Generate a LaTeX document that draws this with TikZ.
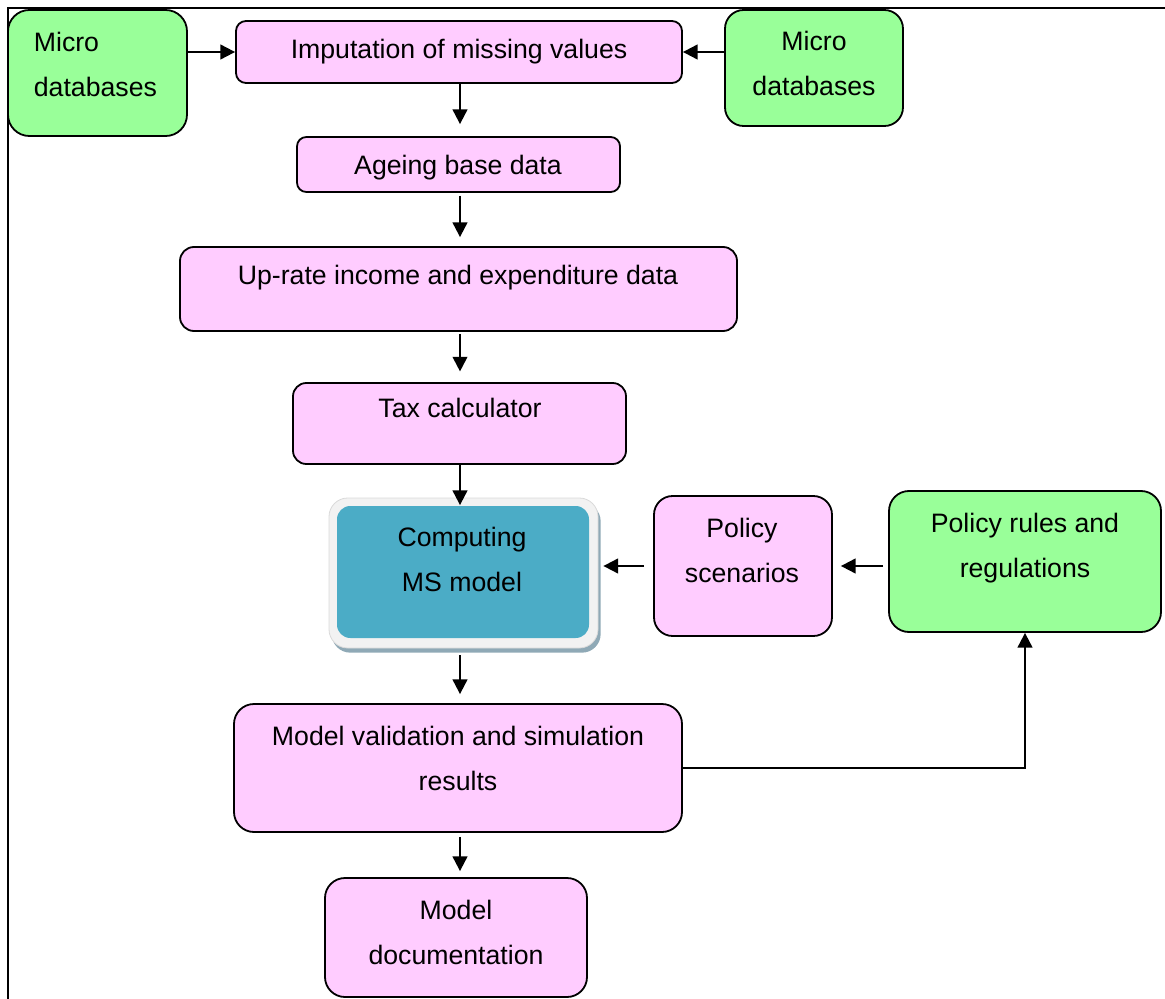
\documentclass[tikz,border=0pt]{standalone}
\usepackage{fontspec}
\setmainfont{Liberation Sans}
\usetikzlibrary{arrows.meta}
\usetikzlibrary{positioning, calc, shadows}

\definecolor{lilac}{HTML}{FFCCFF}
\definecolor{mint}{HTML}{99FF99}
\definecolor{aqua}{HTML}{4BACC6}
\definecolor{paleframe}{HTML}{F2F2F2}
\definecolor{shadowgrey}{HTML}{8FA9B6}

\begin{document}
\begin{tikzpicture}[x = 0.75pt, y = -0.75pt, line width = 1.35pt,
    font = \fontsize{20pt}{33.75pt}\selectfont,
    stage/.style  = {draw, fill = lilac, inner sep = 0pt},
    source/.style = {draw, fill = mint, inner sep = 0pt},
    words/.style  = {anchor = north, align = center, inner sep = 0pt},
    flow/.style   = {line width = 1.5pt, -{Triangle[length = 11pt, width = 11pt]}}
]

    \useasboundingbox (0,0) rectangle (1165,999);

    % page frame
    \draw[line width = 1.8pt] (1165,8) -- (8,8) -- (8,999);

    \coordinate (spine) at (460,0);

    % data sources
    \node[source, minimum width = 134.25pt, minimum height = 94.5pt, rounded corners = 16pt]
        (microL) at (97.5,73) {};
    \node[source, minimum width = 133.5pt, minimum height = 87pt, rounded corners = 14pt]
        (microR) at (814,68) {};
    \node[source, minimum width = 204pt, minimum height = 105.75pt, rounded corners = 15pt]
        (rules) at (1025,561.5) {};

    % processing steps
    \node[stage, minimum width = 334.5pt, minimum height = 46.5pt, rounded corners = 7.5pt]
        (imput) at (459,52) {};
    \node[stage, minimum width = 242.25pt, minimum height = 41.25pt, rounded corners = 7pt]
        (ageing) at (458.5,164.5) {};
    \node[stage, minimum width = 417.75pt, minimum height = 63pt, rounded corners = 10.5pt]
        (uprate) at (458.5,289) {};
    \node[stage, minimum width = 249.75pt, minimum height = 60.75pt, rounded corners = 10pt]
        (tax) at (459.5,423.5) {};
    \node[stage, minimum width = 133.5pt, minimum height = 105pt, rounded corners = 14pt]
        (scen) at (743,566) {};
    \node[stage, minimum width = 336pt, minimum height = 96pt, rounded corners = 15pt]
        (valid) at (458,768) {};
    \node[stage, minimum width = 196.5pt, minimum height = 89.25pt, rounded corners = 15pt]
        (doc) at (456,937.5) {};

    % the model itself
    \node[draw = black!15, line width = 0.6pt, fill = paleframe, inner sep = 0pt,
          minimum width = 201.75pt, minimum height = 112.5pt, rounded corners = 14pt,
          drop shadow = {fill = shadowgrey, opacity = 1, shadow xshift = 2pt, shadow yshift = -3.5pt}]
        (compframe) at (463.5,573) {};
    \node[fill = aqua, inner sep = 0pt, minimum width = 189pt, minimum height = 99pt,
          rounded corners = 10pt]
        (comp) at (463,572) {};

    % texts
    \node[words, anchor = north west, align = left] (microL-t) at (33,31) {Micro\\databases};
    \node[words] (microR-t) at (814,30)   {Micro\\databases};
    \node[words] (imput-t)  at (459,38)   {Imputation of missing values};
    \node[words] (ageing-t) at (458,154)  {Ageing base data};
    \node[words] (uprate-t) at (458,264)  {Up-rate income and expenditure data};
    \node[words] (tax-t)    at (460,397)  {Tax calculator};
    \node[words] (comp-t)   at (462,526)  {Computing\\MS model};
    \node[words] (scen-t)   at (742,517)  {Policy\\scenarios};
    \node[words] (rules-t)  at (1025,512) {Policy rules and\\regulations};
    \node[words] (valid-t)  at (458,725)  {Model validation and simulation\\results};
    \node[words] (doc-t)    at (456,899)  {Model\\documentation};

    % connectors
    \draw[flow] (microL.east |- imput.west) -- (imput.west);
    \draw[flow] (microR.west |- imput.east) -- (imput.east);
    \draw[flow, shorten > = 9pt] (imput.south -| spine) -- (ageing.north -| spine);
    \draw[flow, shorten < = 2pt, shorten > = 6.75pt] (ageing.south -| spine) -- (uprate.north -| spine);
    \draw[flow, shorten < = 1.5pt, shorten > = 8pt] (uprate.south -| spine) -- (tax.north -| spine);
    \draw[flow] (tax.south -| spine) -- (comp.north -| spine);
    \draw[flow, shorten < = 5pt, shorten > = 6.75pt] (compframe.south -| spine) -- (valid.north -| spine);
    \draw[flow, shorten < = 3pt, shorten > = 4.5pt] (valid.south -| spine) -- (doc.north -| spine);
    \draw[flow, shorten < = 6.75pt, shorten > = 3.75pt] (scen.west) -- (scen.west -| compframe.east);
    \draw[flow, shorten < = 3.75pt, shorten > = 6pt] (rules.west |- scen.east) -- (scen.east);
    \draw[flow] (valid.east) -| (rules.south);

\end{tikzpicture}
\end{document}
